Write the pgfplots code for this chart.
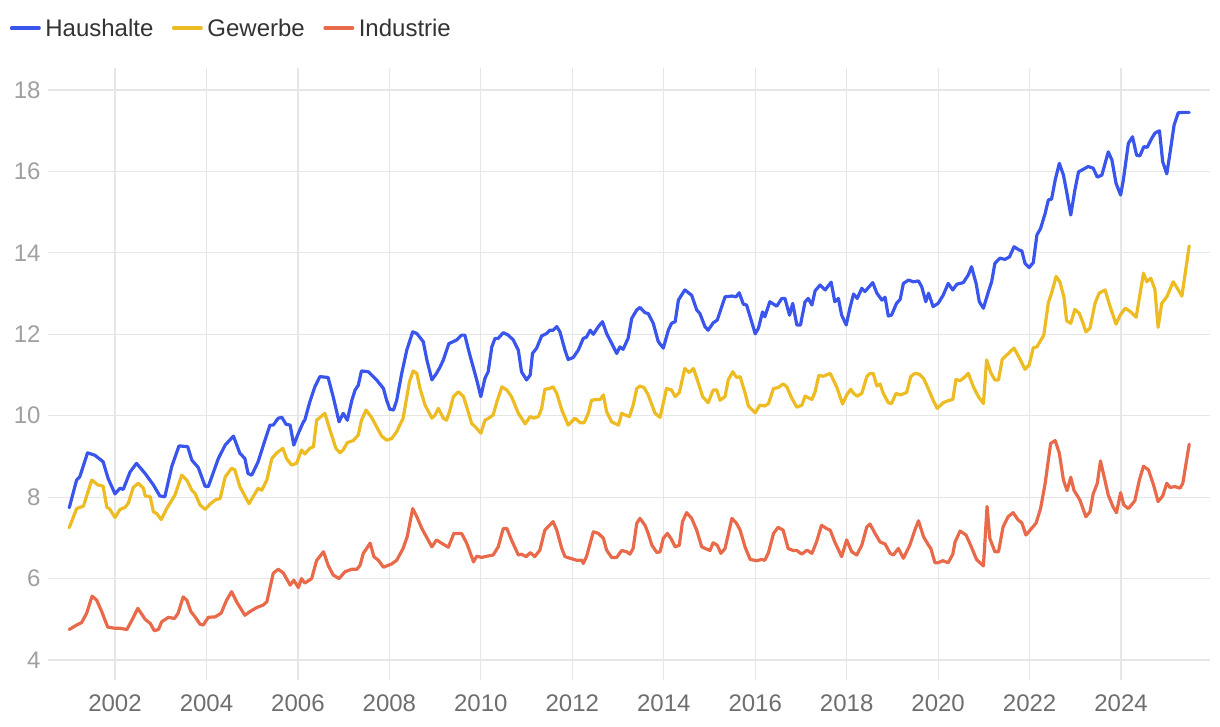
\documentclass[border=0pt]{standalone}
\usepackage{fontspec}
\setmainfont{Liberation Sans}
\usepackage{pgfplots}
\usepackage{pgfplotstable}
\pgfplotsset{compat=1.18}
\definecolor{cblue}{HTML}{3A55EC}
\definecolor{cyellow}{HTML}{EDBB22}
\definecolor{corange}{HTML}{E86A4A}
\definecolor{gridc}{HTML}{E6E6E6}
\definecolor{ytxt}{HTML}{A0A0A0}
\definecolor{xtxt}{HTML}{6E6E6E}
\definecolor{legtxt}{HTML}{333333}

\pgfplotstableread{
x y
2001.00 7.74
2001.16 8.42
2001.23 8.50
2001.40 9.09
2001.56 9.03
2001.74 8.87
2001.85 8.46
2002.00 8.08
2002.11 8.22
2002.18 8.19
2002.33 8.62
2002.47 8.83
2002.66 8.58
2002.84 8.30
2002.98 8.03
2003.09 8.01
2003.24 8.75
2003.40 9.26
2003.59 9.24
2003.68 8.91
2003.82 8.73
2003.97 8.27
2004.04 8.26
2004.26 8.95
2004.41 9.28
2004.59 9.50
2004.73 9.08
2004.84 8.95
2004.91 8.58
2004.99 8.54
2005.13 8.87
2005.28 9.40
2005.39 9.77
2005.46 9.77
2005.57 9.94
2005.65 9.96
2005.74 9.79
2005.83 9.77
2005.91 9.28
2006.01 9.57
2006.12 9.85
2006.15 9.89
2006.26 10.34
2006.37 10.71
2006.48 10.96
2006.66 10.94
2006.77 10.47
2006.90 9.85
2006.99 10.06
2007.08 9.89
2007.18 10.38
2007.25 10.63
2007.32 10.75
2007.39 11.10
2007.54 11.08
2007.72 10.88
2007.87 10.67
2007.94 10.38
2008.01 10.16
2008.09 10.14
2008.16 10.38
2008.27 11.04
2008.38 11.61
2008.51 12.06
2008.60 12.02
2008.74 11.82
2008.82 11.37
2008.93 10.88
2009.03 11.04
2009.11 11.20
2009.18 11.37
2009.30 11.77
2009.47 11.86
2009.58 11.98
2009.65 11.98
2009.76 11.49
2009.91 10.88
2010.00 10.47
2010.09 10.92
2010.16 11.08
2010.24 11.69
2010.31 11.90
2010.38 11.90
2010.49 12.04
2010.60 11.98
2010.71 11.86
2010.82 11.61
2010.89 11.08
2011.00 10.88
2011.08 11.00
2011.13 11.53
2011.22 11.66
2011.33 11.96
2011.44 12.02
2011.51 12.10
2011.58 12.10
2011.66 12.19
2011.73 12.06
2011.84 11.61
2011.91 11.38
2012.02 11.43
2012.13 11.61
2012.24 11.90
2012.31 11.93
2012.39 12.10
2012.46 12.00
2012.57 12.19
2012.66 12.31
2012.75 12.02
2012.86 11.78
2012.97 11.53
2013.04 11.69
2013.11 11.63
2013.22 11.90
2013.30 12.39
2013.41 12.60
2013.48 12.66
2013.59 12.53
2013.66 12.51
2013.77 12.27
2013.88 11.82
2013.99 11.66
2014.10 12.10
2014.17 12.27
2014.25 12.31
2014.32 12.84
2014.46 13.09
2014.61 12.96
2014.72 12.60
2014.79 12.51
2014.90 12.19
2014.97 12.10
2015.08 12.28
2015.17 12.35
2015.34 12.92
2015.49 12.94
2015.58 12.92
2015.65 13.02
2015.74 12.74
2015.81 12.72
2015.90 12.39
2016.00 12.01
2016.07 12.15
2016.16 12.55
2016.21 12.43
2016.32 12.80
2016.47 12.69
2016.58 12.88
2016.65 12.88
2016.75 12.47
2016.82 12.76
2016.91 12.23
2016.99 12.23
2017.09 12.80
2017.16 12.88
2017.24 12.72
2017.31 13.07
2017.42 13.21
2017.53 13.09
2017.66 13.28
2017.74 12.80
2017.82 12.88
2017.89 12.47
2017.99 12.23
2018.07 12.64
2018.15 12.99
2018.23 12.88
2018.33 13.13
2018.40 13.05
2018.57 13.27
2018.66 13.01
2018.77 12.84
2018.84 12.91
2018.91 12.45
2018.98 12.47
2019.09 12.76
2019.17 12.86
2019.24 13.25
2019.35 13.33
2019.46 13.29
2019.57 13.31
2019.64 13.17
2019.73 12.80
2019.79 13.01
2019.89 12.68
2020.00 12.76
2020.11 12.96
2020.22 13.25
2020.32 13.09
2020.41 13.23
2020.55 13.27
2020.66 13.46
2020.73 13.66
2020.83 13.25
2020.90 12.80
2020.99 12.64
2021.10 13.05
2021.17 13.29
2021.24 13.74
2021.35 13.87
2021.46 13.84
2021.56 13.90
2021.66 14.15
2021.77 14.07
2021.83 14.05
2021.90 13.74
2021.99 13.64
2022.08 13.76
2022.16 14.44
2022.24 14.60
2022.34 14.97
2022.41 15.30
2022.48 15.32
2022.56 15.79
2022.65 16.20
2022.74 15.91
2022.81 15.50
2022.90 14.93
2022.99 15.54
2023.07 15.99
2023.17 16.05
2023.28 16.12
2023.39 16.08
2023.48 15.86
2023.58 15.91
2023.72 16.48
2023.80 16.28
2023.89 15.71
2023.99 15.42
2024.05 15.79
2024.16 16.69
2024.25 16.85
2024.34 16.40
2024.41 16.38
2024.50 16.61
2024.57 16.59
2024.67 16.81
2024.74 16.94
2024.84 17.00
2024.91 16.24
2025.00 15.94
2025.07 16.45
2025.16 17.14
2025.25 17.44
2025.36 17.45
2025.49 17.45
}\haushalte

\pgfplotstableread{
x y
2001.00 7.25
2001.16 7.72
2001.31 7.78
2001.49 8.42
2001.63 8.30
2001.74 8.27
2001.82 7.76
2001.89 7.70
2002.00 7.50
2002.11 7.70
2002.22 7.75
2002.29 7.85
2002.40 8.24
2002.51 8.34
2002.62 8.22
2002.66 8.03
2002.77 8.01
2002.84 7.64
2002.91 7.60
2003.01 7.45
2003.13 7.72
2003.31 8.05
2003.46 8.54
2003.57 8.42
2003.68 8.17
2003.75 8.09
2003.86 7.81
2003.97 7.70
2004.08 7.83
2004.19 7.93
2004.30 7.97
2004.41 8.50
2004.55 8.71
2004.62 8.67
2004.73 8.26
2004.93 7.84
2005.13 8.22
2005.21 8.17
2005.32 8.42
2005.43 8.95
2005.54 9.09
2005.67 9.20
2005.75 8.95
2005.86 8.79
2005.97 8.83
2006.08 9.16
2006.15 9.06
2006.26 9.20
2006.34 9.24
2006.41 9.89
2006.59 10.06
2006.70 9.65
2006.83 9.20
2006.92 9.09
2006.99 9.16
2007.08 9.34
2007.21 9.39
2007.32 9.53
2007.39 9.89
2007.49 10.14
2007.61 9.96
2007.72 9.73
2007.83 9.50
2007.94 9.40
2008.05 9.44
2008.16 9.61
2008.30 9.94
2008.44 10.84
2008.52 11.10
2008.60 11.04
2008.67 10.67
2008.78 10.26
2008.93 9.94
2009.00 10.02
2009.07 10.18
2009.18 9.94
2009.25 9.89
2009.32 10.12
2009.40 10.47
2009.51 10.59
2009.62 10.47
2009.69 10.22
2009.80 9.81
2009.91 9.69
2010.00 9.57
2010.09 9.89
2010.20 9.96
2010.27 10.02
2010.35 10.34
2010.46 10.71
2010.57 10.63
2010.67 10.47
2010.82 10.06
2010.97 9.80
2011.08 9.98
2011.15 9.94
2011.26 9.98
2011.33 10.18
2011.40 10.65
2011.51 10.67
2011.58 10.71
2011.66 10.55
2011.77 10.14
2011.91 9.77
2012.06 9.94
2012.17 9.83
2012.26 9.83
2012.35 10.06
2012.42 10.38
2012.53 10.40
2012.61 10.40
2012.68 10.51
2012.75 10.10
2012.86 9.85
2013.01 9.77
2013.08 10.06
2013.15 10.02
2013.25 9.98
2013.33 10.26
2013.41 10.67
2013.48 10.73
2013.57 10.69
2013.66 10.51
2013.81 10.06
2013.92 9.96
2014.06 10.67
2014.17 10.63
2014.25 10.47
2014.34 10.57
2014.46 11.16
2014.56 11.06
2014.65 11.16
2014.76 10.79
2014.85 10.47
2014.97 10.32
2015.08 10.63
2015.16 10.63
2015.23 10.38
2015.34 10.47
2015.41 10.88
2015.51 11.08
2015.59 10.94
2015.67 10.96
2015.78 10.55
2015.85 10.24
2016.00 10.07
2016.10 10.26
2016.21 10.24
2016.29 10.30
2016.40 10.67
2016.50 10.69
2016.61 10.78
2016.69 10.71
2016.80 10.43
2016.91 10.21
2017.02 10.26
2017.09 10.48
2017.24 10.40
2017.31 10.59
2017.39 10.99
2017.49 10.97
2017.64 11.04
2017.78 10.71
2017.91 10.29
2018.00 10.51
2018.09 10.65
2018.15 10.55
2018.23 10.48
2018.33 10.55
2018.44 10.96
2018.51 11.04
2018.58 11.04
2018.66 10.73
2018.73 10.78
2018.80 10.55
2018.91 10.32
2018.98 10.30
2019.08 10.55
2019.17 10.51
2019.31 10.57
2019.40 10.96
2019.49 11.04
2019.59 11.02
2019.68 10.92
2019.79 10.65
2019.89 10.38
2019.98 10.18
2020.11 10.32
2020.22 10.37
2020.32 10.40
2020.39 10.89
2020.48 10.86
2020.59 10.96
2020.66 11.04
2020.77 10.71
2020.88 10.47
2020.99 10.30
2021.06 11.37
2021.15 11.06
2021.24 10.88
2021.32 10.88
2021.40 11.38
2021.48 11.47
2021.61 11.61
2021.66 11.66
2021.77 11.43
2021.90 11.14
2021.99 11.25
2022.08 11.67
2022.16 11.69
2022.31 11.98
2022.41 12.78
2022.48 13.01
2022.58 13.42
2022.66 13.29
2022.75 12.92
2022.81 12.33
2022.90 12.27
2022.99 12.61
2023.09 12.51
2023.17 12.27
2023.23 12.06
2023.32 12.15
2023.43 12.76
2023.52 13.01
2023.65 13.09
2023.76 12.68
2023.89 12.25
2023.98 12.47
2024.09 12.64
2024.20 12.56
2024.33 12.42
2024.41 12.96
2024.49 13.50
2024.56 13.29
2024.65 13.38
2024.74 13.10
2024.81 12.17
2024.89 12.76
2025.00 12.92
2025.14 13.29
2025.23 13.13
2025.33 12.94
2025.49 14.17
}\gewerbe

\pgfplotstableread{
x y
2001.00 4.75
2001.16 4.86
2001.27 4.92
2001.38 5.15
2001.50 5.57
2001.60 5.47
2001.71 5.19
2001.84 4.81
2002.00 4.78
2002.11 4.78
2002.26 4.75
2002.37 4.98
2002.50 5.27
2002.66 5.00
2002.77 4.90
2002.86 4.72
2002.95 4.75
2003.02 4.94
2003.17 5.05
2003.30 5.02
2003.38 5.15
2003.49 5.55
2003.57 5.47
2003.66 5.19
2003.75 5.06
2003.86 4.88
2003.93 4.86
2004.04 5.05
2004.19 5.06
2004.32 5.15
2004.44 5.47
2004.55 5.68
2004.66 5.43
2004.84 5.10
2004.95 5.19
2005.10 5.29
2005.24 5.35
2005.32 5.43
2005.46 6.13
2005.57 6.23
2005.68 6.14
2005.83 5.84
2005.91 5.96
2006.01 5.78
2006.08 6.00
2006.15 5.89
2006.30 6.00
2006.41 6.45
2006.56 6.66
2006.66 6.33
2006.77 6.09
2006.90 6.00
2007.03 6.17
2007.18 6.23
2007.29 6.23
2007.36 6.33
2007.43 6.62
2007.58 6.87
2007.66 6.54
2007.76 6.45
2007.87 6.28
2008.05 6.36
2008.16 6.45
2008.30 6.74
2008.39 7.03
2008.51 7.72
2008.60 7.52
2008.71 7.23
2008.93 6.78
2009.03 6.95
2009.14 6.87
2009.29 6.77
2009.41 7.11
2009.58 7.11
2009.69 6.87
2009.76 6.66
2009.84 6.41
2009.91 6.55
2010.02 6.52
2010.13 6.55
2010.27 6.58
2010.38 6.78
2010.49 7.23
2010.57 7.23
2010.67 6.95
2010.82 6.58
2010.89 6.60
2010.99 6.54
2011.08 6.64
2011.18 6.54
2011.29 6.70
2011.40 7.19
2011.58 7.40
2011.66 7.19
2011.77 6.74
2011.84 6.54
2011.95 6.50
2012.10 6.45
2012.21 6.45
2012.24 6.37
2012.31 6.54
2012.46 7.15
2012.57 7.11
2012.68 6.99
2012.75 6.70
2012.86 6.52
2012.97 6.52
2013.08 6.69
2013.19 6.66
2013.26 6.60
2013.33 6.74
2013.41 7.36
2013.48 7.48
2013.59 7.31
2013.66 7.11
2013.74 6.82
2013.85 6.64
2013.92 6.66
2013.99 6.99
2014.08 7.11
2014.17 6.96
2014.25 6.78
2014.34 6.82
2014.41 7.40
2014.50 7.62
2014.61 7.48
2014.72 7.19
2014.83 6.78
2015.01 6.69
2015.08 6.88
2015.17 6.82
2015.25 6.62
2015.34 6.74
2015.49 7.48
2015.59 7.36
2015.67 7.19
2015.78 6.77
2015.89 6.47
2016.03 6.44
2016.14 6.47
2016.21 6.45
2016.29 6.64
2016.40 7.11
2016.50 7.26
2016.61 7.19
2016.72 6.74
2016.83 6.69
2016.91 6.69
2017.02 6.60
2017.13 6.70
2017.24 6.62
2017.34 6.90
2017.45 7.31
2017.56 7.23
2017.64 7.19
2017.74 6.90
2017.89 6.54
2018.00 6.95
2018.11 6.66
2018.22 6.58
2018.33 6.82
2018.44 7.27
2018.51 7.34
2018.62 7.11
2018.73 6.90
2018.84 6.85
2018.95 6.62
2019.02 6.58
2019.13 6.74
2019.24 6.50
2019.38 6.82
2019.49 7.19
2019.57 7.42
2019.68 7.03
2019.79 6.82
2019.84 6.74
2019.93 6.39
2020.00 6.39
2020.10 6.44
2020.22 6.39
2020.32 6.60
2020.37 6.90
2020.48 7.17
2020.61 7.07
2020.71 6.82
2020.84 6.47
2020.99 6.31
2021.07 7.77
2021.13 6.99
2021.24 6.66
2021.32 6.66
2021.42 7.27
2021.53 7.52
2021.64 7.62
2021.75 7.44
2021.83 7.37
2021.92 7.07
2022.01 7.19
2022.14 7.36
2022.24 7.72
2022.34 8.34
2022.46 9.32
2022.56 9.39
2022.65 9.08
2022.74 8.42
2022.82 8.16
2022.90 8.49
2022.97 8.17
2023.10 7.93
2023.23 7.52
2023.32 7.64
2023.39 8.08
2023.48 8.34
2023.55 8.89
2023.63 8.50
2023.72 8.05
2023.83 7.75
2023.90 7.62
2023.99 8.11
2024.06 7.81
2024.16 7.72
2024.30 7.91
2024.40 8.42
2024.49 8.76
2024.60 8.67
2024.71 8.30
2024.81 7.89
2024.91 8.03
2025.00 8.34
2025.07 8.24
2025.18 8.26
2025.29 8.22
2025.35 8.34
2025.49 9.30
}\industrie

\begin{document}
\begin{tikzpicture}
\path[use as bounding box] (0pt,0pt) rectangle (1220pt,726pt);
\begin{axis}[
  at={(48pt,46pt)}, anchor=south west,
  scale only axis, width=1162pt, height=612pt,
  xmin=2000.535, xmax=2025.945, ymin=3.51, ymax=18.54,
  xtick={2002,2004,2006,2008,2010,2012,2014,2016,2018,2020,2022,2024},
  xticklabels={2002,2004,2006,2008,2010,2012,2014,2016,2018,2020,2022,2024},
  ytick={4,6,8,10,12,14,16,18},
  yticklabels={4,6,8,10,12,14,16,18},
  axis line style={draw=none},
  major tick length=0pt,
  grid=major,
  grid style={gridc, line width=1.2pt},
  xticklabel style={font=\fontsize{24}{28}\selectfont, text=xtxt, yshift=-11pt},
  yticklabel style={font=\fontsize{24}{28}\selectfont, text=ytxt, xshift=-4pt},
  legend columns=3,
  legend style={at={(-0.033,1.065)}, anchor=west, draw=none, fill=none,
    font=\fontsize{24}{28}\selectfont, text=legtxt, inner sep=0pt,
    nodes={inner sep=4.5pt},
    /tikz/every even column/.append style={column sep=14pt}},
  legend image code/.code={\draw[#1, line width=4pt, line cap=round] (0pt,0pt) -- (27pt,0pt);},
  every axis plot/.append style={line width=3.2pt, line join=round, line cap=round},
]
\addplot[cblue] table[x=x,y=y] {\haushalte};
\addlegendentry{Haushalte}
\addplot[cyellow] table[x=x,y=y] {\gewerbe};
\addlegendentry{Gewerbe}
\addplot[corange] table[x=x,y=y] {\industrie};
\addlegendentry{Industrie}
\end{axis}
\end{tikzpicture}
\end{document}
